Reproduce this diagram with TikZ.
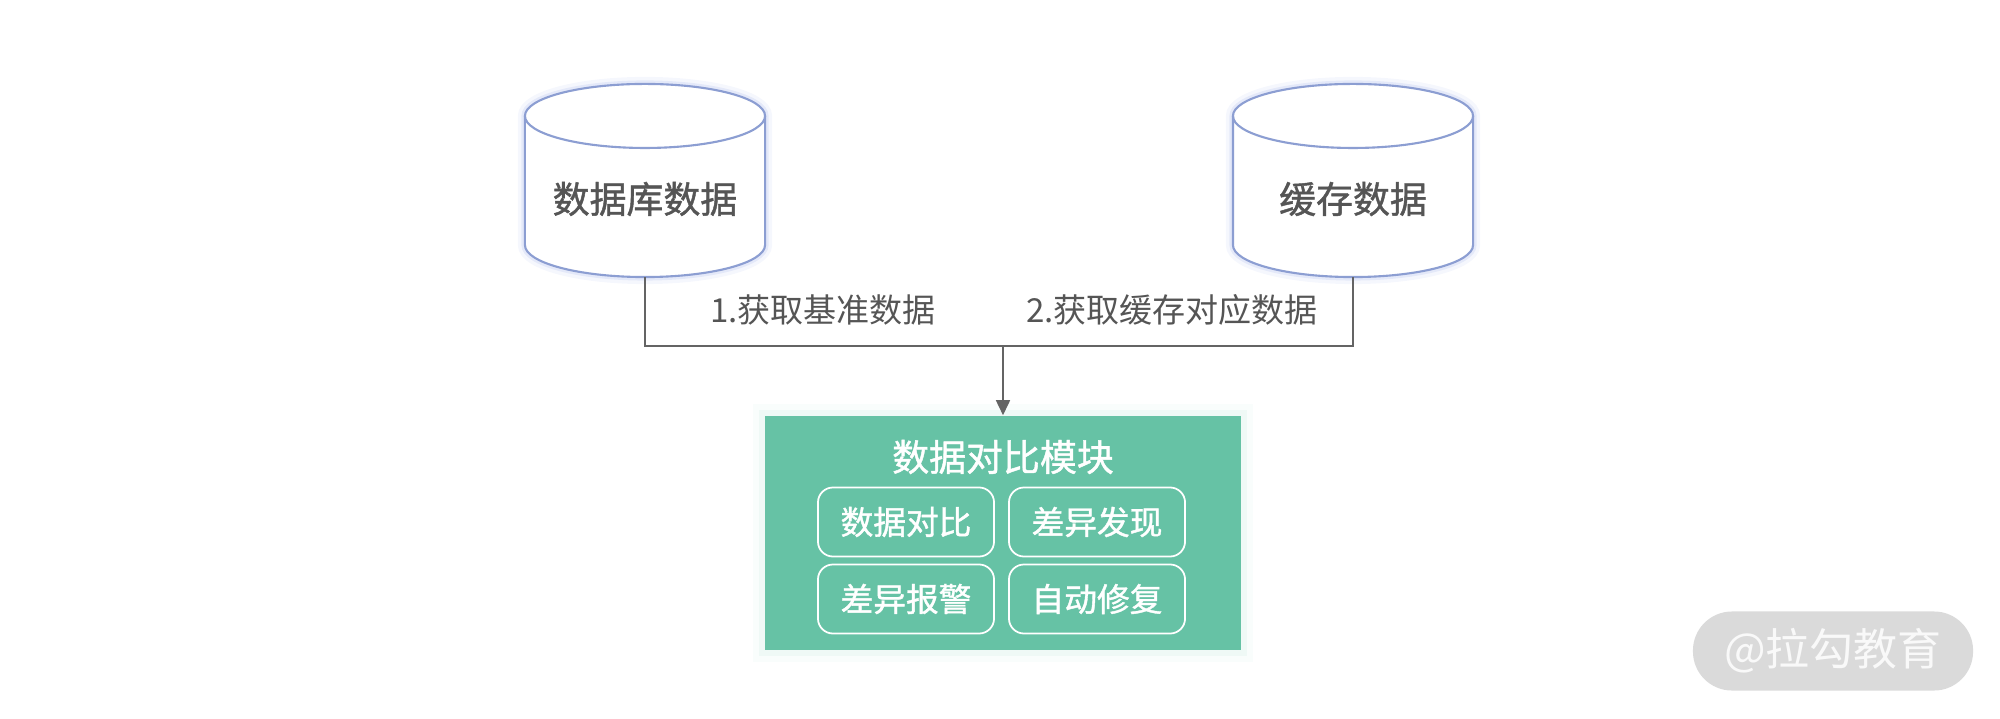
\documentclass[tikz,border=0pt]{standalone}
\usepackage{fontspec}
\setmainfont{Noto Sans CJK SC}
\newfontfamily\medfont[FakeBold=1.2]{Noto Sans CJK SC}
\definecolor{cylline}{RGB}{140, 158, 210}
\definecolor{cylglow}{RGB}{190, 200, 240}
\definecolor{textgray}{RGB}{85, 85, 85}
\definecolor{linkgray}{RGB}{100, 100, 100}
\definecolor{modgreen}{RGB}{102, 194, 165}
\definecolor{markgray}{RGB}{218, 218, 218}
\usetikzlibrary{shapes.geometric, arrows.meta, positioning}
\tikzset{
    dbnode/.style={rectangle, inner sep=0pt, outer sep=0pt, minimum width=2.4cm, minimum height=1.56cm,
                   text=textgray, font=\fontsize{10.5}{12}\selectfont\medfont},
    cylbody/.style={draw=cylline, line width=0.6pt, fill=white,
                    preaction={draw=cylglow, line width=4pt, opacity=0.15},
                    preaction={draw=cylglow, line width=2pt, opacity=0.3}},
    modulebox/.style={rectangle, fill=modgreen, minimum width=4.75cm, minimum height=2.34cm,
                      preaction={draw=modgreen!30, line width=7pt, opacity=0.12},
                      preaction={draw=modgreen!30, line width=3.5pt, opacity=0.25}},
    funcbox/.style={rectangle, rounded corners=0.15cm, draw=white, line width=0.5pt,
                    minimum width=1.76cm, minimum height=0.69cm, text=white,
                    font=\fontsize{9.3}{11}\selectfont\medfont},
    steplabel/.style={text=textgray, font=\fontsize{9.4}{11}\selectfont},
    linkline/.style={draw=linkgray, line width=0.45pt},
    arrow/.style={-{Triangle[length=1.5mm, width=1.4mm]}, linkgray, line width=0.45pt},
}
\begin{document}
\begin{tikzpicture}[x=0.01cm, y=-0.01cm]
    \useasboundingbox (0,0) rectangle (2000,718);

    \node[dbnode] (dbdata) at (645,199) {};
    \node[dbnode] (cachedata) at (1353,199) {};
    \foreach \db in {dbdata, cachedata} {
        \draw[cylbody] ([yshift=0.05cm]\db.north west) -- ([yshift=0.32cm]\db.south west)
            arc[start angle=180, end angle=360, x radius=1.2cm, y radius=0.32cm]
            -- ([yshift=0.05cm]\db.north east)
            arc[start angle=0, end angle=180, x radius=1.2cm, y radius=0.32cm] -- cycle;
        \draw[draw=cylline, line width=0.6pt] ([yshift=0.05cm]\db.north west)
            arc[start angle=180, end angle=360, x radius=1.2cm, y radius=0.32cm];
    }
    \node[dbnode] at (dbdata) {数据库数据};
    \node[dbnode] at (cachedata) {缓存数据};

    \node[modulebox] (cmpbox) at (1003,533) {};
    \node[text=white, font=\fontsize{10.5}{12}\selectfont\medfont] (cmptitle) at (1003,457) {数据对比模块};
    \node[funcbox] (compare) at (906,522) {数据对比};
    \node[funcbox] (finddiff) at (1097,522) {差异发现};
    \node[funcbox] (alarm) at (906,599) {差异报警};
    \node[funcbox] (autofix) at (1097,599) {自动修复};

    \coordinate (joint) at (1003,346);
    \draw[linkline] (dbdata.south) |- (joint) -| (cachedata.south);
    \draw[arrow] (joint) -- (cmpbox.north);
    \node[steplabel] (step1) at (823,310) {1.获取基准数据};
    \node[steplabel] (step2) at (1172,310) {2.获取缓存对应数据};

    \node[rectangle, rounded corners=0.39cm, fill=markgray, minimum width=2.8cm, minimum height=0.79cm,
          text=white!95!gray, font=\fontsize{12.5}{14}\selectfont] (logo) at (1833,651) {@拉勾教育};
\end{tikzpicture}
\end{document}
